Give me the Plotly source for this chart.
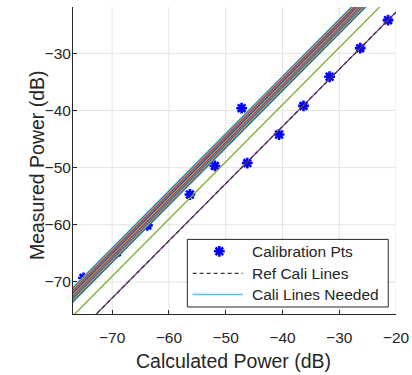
import numpy as np
import plotly.graph_objects as go

# ---------------- data ----------------
calc_power = [-75.05, -69.2, -63.8, -56.3, -51.9, -49.3, -47.2,
              -46.2, -40.6, -36.3, -31.7, -26.3, -21.4]
meas_power = [-69.3, -64.8, -60.1, -54.7, -49.7, -44.6, -39.6,
              -49.2, -44.2, -39.2, -34.1, -29.1, -24.2]

ref_slope = 1.0
ref_offset = -2.8

needed_offsets = [6.0, 5.83, 5.66, 5.49, 5.32, 5.15, 4.98, 4.81,
                  4.64, 4.47, 4.30, 4.13, 3.96, 3.79, 3.62, 3.45,
                  1.0, -2.8]
needed_colors = ["#4DBEEE", "#0072BD", "#EDB120", "#D95319", "#7E2F8E",
                 "#4DBEEE", "#A2142F", "#0072BD", "#EDB120", "#D95319",
                 "#7E2F8E", "#4DBEEE", "#0072BD", "#D95319", "#EDB120",
                 "#0072BD", "#77AC30", "#7E2F8E"]

legend_labels = ["Calibration Pts", "Ref Cali Lines", "Cali Lines Needed"]
x_title = "Calculated Power (dB)"
y_title = "Measured Power (dB)"

x_ticks = [-70, -60, -50, -40, -30, -20]
y_ticks = [-70, -60, -50, -40, -30]
x_range = [-76.9, -20.0]
y_range = [-75.6, -21.9]

TXT = "#262626"
GRID = "#e4e4e4"
FONT = "Liberation Sans, Arial, sans-serif"
MARKER = dict(symbol="asterisk-open", size=9, color="blue",
              line=dict(color="blue", width=2.6))

line_x = np.array([-90.0, -10.0])

fig = go.Figure()

fig.add_trace(go.Scatter(
    x=calc_power, y=meas_power, mode="markers", name=legend_labels[0],
    marker=MARKER, showlegend=False, hoverinfo="skip"))

for c, col in zip(needed_offsets, needed_colors):
    fig.add_trace(go.Scatter(
        x=line_x, y=line_x + c, mode="lines",
        line=dict(color=col, width=1.3),
        name=legend_labels[2], showlegend=False, hoverinfo="skip"))

fig.add_trace(go.Scatter(
    x=line_x, y=ref_slope * line_x + ref_offset, mode="lines",
    name=legend_labels[1],
    line=dict(color="#3a3a3a", width=1.3, dash="4px,3px"),
    showlegend=False, hoverinfo="skip"))

# ---------- grid lines as shapes (so the legend box can cover them) ----------
for xv in x_ticks:
    fig.add_shape(type="line", xref="x", yref="y domain",
                  x0=xv, x1=xv, y0=0, y1=1,
                  line=dict(color=GRID, width=1), layer="below")
for yv in y_ticks:
    fig.add_shape(type="line", xref="x domain", yref="y",
                  x0=0, x1=1, y0=yv, y1=yv,
                  line=dict(color=GRID, width=1), layer="below")

# ---------- legend (drawn by hand, axes-domain coordinates) ----------
LX0, LX1, LY0, LY1 = 0.354, 0.976, 0.0228, 0.243
ROWS = [0.2042, 0.1326, 0.0635]
SYM0, SYM1, SYMC, TXTX = 0.3705, 0.5254, 0.453, 0.548


def dom_x(f):
    return x_range[0] + f * (x_range[1] - x_range[0])


def dom_y(f):
    return y_range[0] + f * (y_range[1] - y_range[0])


fig.add_shape(type="rect", xref="x domain", yref="y domain",
              x0=LX0, x1=LX1, y0=LY0, y1=LY1,
              line=dict(color=TXT, width=1), fillcolor="white",
              layer="below")
fig.add_shape(type="line", xref="x domain", yref="y domain",
              x0=SYM0, x1=SYM1, y0=ROWS[1], y1=ROWS[1],
              line=dict(color="#3a3a3a", width=1.3, dash="4px,3px"),
              layer="above")
fig.add_shape(type="line", xref="x domain", yref="y domain",
              x0=SYM0, x1=SYM1, y0=ROWS[2], y1=ROWS[2],
              line=dict(color=needed_colors[0], width=1.3),
              layer="above")
fig.add_trace(go.Scatter(
    x=[dom_x(SYMC)], y=[dom_y(ROWS[0])], mode="markers",
    marker=MARKER, showlegend=False, hoverinfo="skip"))
for lab, ry in zip(legend_labels, ROWS):
    fig.add_annotation(text=lab, xref="x domain", yref="y domain",
                       x=TXTX, y=ry, xanchor="left", yanchor="middle",
                       showarrow=False,
                       font=dict(family=FONT, size=15.5, color=TXT))

# ---------- axis titles ----------
fig.add_annotation(text=x_title, xref="paper", yref="paper",
                   x=0.497, y=-0.153, xanchor="center", yanchor="middle",
                   showarrow=False,
                   font=dict(family=FONT, size=19.5, color=TXT))
fig.add_annotation(text=y_title, xref="paper", yref="paper",
                   x=-0.1115, y=0.485, xanchor="center", yanchor="middle",
                   textangle=-90, showarrow=False,
                   font=dict(family=FONT, size=19.5, color=TXT))

axis_common = dict(
    showline=True, linecolor=TXT, linewidth=1,
    ticks="inside", ticklen=4, tickcolor=TXT,
    showgrid=False, zeroline=False, mirror=False, automargin=False,
    tickfont=dict(family=FONT, size=15.5, color=TXT),
)

fig.update_layout(
    width=412, height=375,
    margin=dict(l=73, r=16, t=7, b=61, autoexpand=False),
    paper_bgcolor="white", plot_bgcolor="white",
    font=dict(family=FONT, color=TXT),
    showlegend=False,
    xaxis=dict(range=x_range, tickvals=x_ticks, ticklabelstandoff=9,
               **axis_common),
    yaxis=dict(range=y_range, tickvals=y_ticks, ticklabelstandoff=-2,
               **axis_common),
)

fig.write_html(
    "out.html",
    config={"displayModeBar": False},
    post_script="document.body.style.margin='0px';"
                "document.body.style.padding='0px';")
